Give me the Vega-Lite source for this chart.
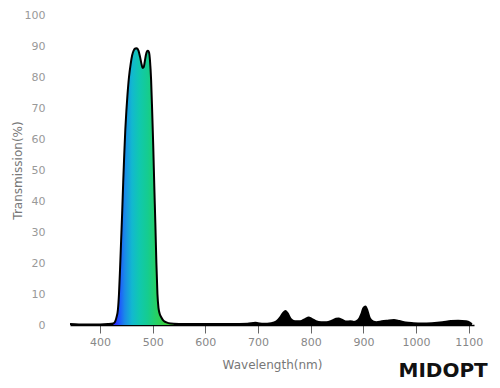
{
  "$schema": "https://vega.github.io/schema/vega-lite/v6.json",
  "autosize": "none",
  "width": 404,
  "height": 310,
  "padding": {"left": 70, "top": 15, "right": 26, "bottom": 63},
  "background": "white",
  "config": {"view": {"stroke": null}, "font": "DejaVu Sans"},
  "title": {"text": "MIDOPT", "orient": "bottom", "anchor": "end", "fontSize": 20, "fontWeight": "bold", "color": "#111", "font": "DejaVu Sans", "offset": -9, "dx": 5},
  "data": {"values": [
    {"nm": 343, "T": 0.3}, {"nm": 360, "T": 0.2}, {"nm": 380, "T": 0.2}, {"nm": 400, "T": 0.2},
    {"nm": 415, "T": 0.3}, {"nm": 425, "T": 0.5}, {"nm": 428, "T": 0.9}, {"nm": 431, "T": 2.3},
    {"nm": 434, "T": 5}, {"nm": 436, "T": 10}, {"nm": 438, "T": 18}, {"nm": 440, "T": 27},
    {"nm": 442, "T": 36}, {"nm": 444, "T": 46}, {"nm": 446, "T": 55}, {"nm": 448, "T": 63},
    {"nm": 450, "T": 69}, {"nm": 452, "T": 74}, {"nm": 455, "T": 80}, {"nm": 458, "T": 84},
    {"nm": 461, "T": 87}, {"nm": 464, "T": 88.6}, {"nm": 467, "T": 89.2}, {"nm": 470, "T": 89.3},
    {"nm": 473, "T": 88.5}, {"nm": 476, "T": 86.5}, {"nm": 479, "T": 84}, {"nm": 481, "T": 82.9},
    {"nm": 483, "T": 83.2}, {"nm": 485, "T": 85}, {"nm": 487, "T": 87}, {"nm": 489, "T": 88.2},
    {"nm": 491, "T": 88.5}, {"nm": 493, "T": 88}, {"nm": 495, "T": 85}, {"nm": 497, "T": 79},
    {"nm": 499, "T": 69}, {"nm": 501, "T": 58}, {"nm": 503, "T": 45}, {"nm": 505, "T": 33},
    {"nm": 507, "T": 20}, {"nm": 509, "T": 10}, {"nm": 511, "T": 5.5}, {"nm": 513, "T": 3.8},
    {"nm": 516, "T": 2.6}, {"nm": 520, "T": 1.5}, {"nm": 525, "T": 0.9}, {"nm": 530, "T": 0.6},
    {"nm": 540, "T": 0.4}, {"nm": 560, "T": 0.3}, {"nm": 600, "T": 0.3}, {"nm": 650, "T": 0.3},
    {"nm": 680, "T": 0.4}, {"nm": 695, "T": 0.7}, {"nm": 700, "T": 0.6}, {"nm": 710, "T": 0.4},
    {"nm": 725, "T": 0.6}, {"nm": 735, "T": 1.2}, {"nm": 742, "T": 2.5}, {"nm": 748, "T": 4.0},
    {"nm": 752, "T": 4.5}, {"nm": 756, "T": 3.8}, {"nm": 762, "T": 2.0}, {"nm": 770, "T": 1.2},
    {"nm": 780, "T": 1.2}, {"nm": 790, "T": 2.0}, {"nm": 796, "T": 2.4}, {"nm": 802, "T": 2.0},
    {"nm": 810, "T": 1.2}, {"nm": 820, "T": 0.9}, {"nm": 830, "T": 0.9}, {"nm": 840, "T": 1.4},
    {"nm": 848, "T": 2.0}, {"nm": 853, "T": 2.1}, {"nm": 860, "T": 1.6}, {"nm": 868, "T": 1.1},
    {"nm": 875, "T": 1.2}, {"nm": 882, "T": 1.0}, {"nm": 890, "T": 1.6}, {"nm": 896, "T": 3.5},
    {"nm": 900, "T": 5.5}, {"nm": 904, "T": 6.0}, {"nm": 908, "T": 4.5}, {"nm": 912, "T": 2.3},
    {"nm": 918, "T": 1.2}, {"nm": 925, "T": 0.9}, {"nm": 935, "T": 1.2}, {"nm": 945, "T": 1.4},
    {"nm": 958, "T": 1.6}, {"nm": 968, "T": 1.3}, {"nm": 980, "T": 0.8}, {"nm": 995, "T": 0.6},
    {"nm": 1010, "T": 0.5}, {"nm": 1030, "T": 0.6}, {"nm": 1050, "T": 0.9}, {"nm": 1066, "T": 1.3},
    {"nm": 1080, "T": 1.4}, {"nm": 1095, "T": 1.2}, {"nm": 1102, "T": 0.8}, {"nm": 1106, "T": 0.3}
  ]},
  "encoding": {
    "x": {"field": "nm", "type": "quantitative",
      "scale": {"domain": [343, 1110], "nice": false, "zero": false},
      "axis": {"values": [400, 500, 600, 700, 800, 900, 1000, 1100], "format": "d", "grid": false,
        "tickSize": 8, "tickColor": "#666", "tickWidth": 1, "domainColor": "#000", "domainWidth": 1.5,
        "labelColor": "#888", "labelFontSize": 11, "labelPadding": 3,
        "title": "Wavelength(nm)", "titleColor": "#777", "titleFontSize": 12, "titleFontWeight": "normal", "titlePadding": 12}},
    "y": {"field": "T", "type": "quantitative",
      "scale": {"domain": [0, 100], "nice": false},
      "axis": {"values": [0, 10, 20, 30, 40, 50, 60, 70, 80, 90, 100], "grid": false, "domain": false, "ticks": false,
        "labelColor": "#999", "labelFontSize": 11, "labelPadding": 25,
        "title": "Transmission(%)", "titleColor": "#777", "titleFontSize": 12, "titleFontWeight": "normal", "titlePadding": 0}}
  },
  "layer": [
    {"mark": {"type": "area", "interpolate": "monotone", "color": "#000"}},
    {"transform": [{"filter": "datum.nm >= 425 && datum.nm <= 540"}],
     "mark": {"type": "area", "interpolate": "monotone",
       "color": {"gradient": "linear", "x1": 0, "x2": 1, "y1": 0, "y2": 0,
         "stops": [
           {"offset": 0.03, "color": "#2a2cff"},
           {"offset": 0.10, "color": "#1f55ff"},
           {"offset": 0.19, "color": "#1a8ae8"},
           {"offset": 0.31, "color": "#12b8d0"},
           {"offset": 0.43, "color": "#10c8b0"},
           {"offset": 0.57, "color": "#15cc90"},
           {"offset": 0.70, "color": "#25d068"},
           {"offset": 0.83, "color": "#35d045"},
           {"offset": 1, "color": "#40d030"}]}}},
    {"mark": {"type": "line", "interpolate": "monotone", "color": "#000", "strokeWidth": 2}}
  ]
}
